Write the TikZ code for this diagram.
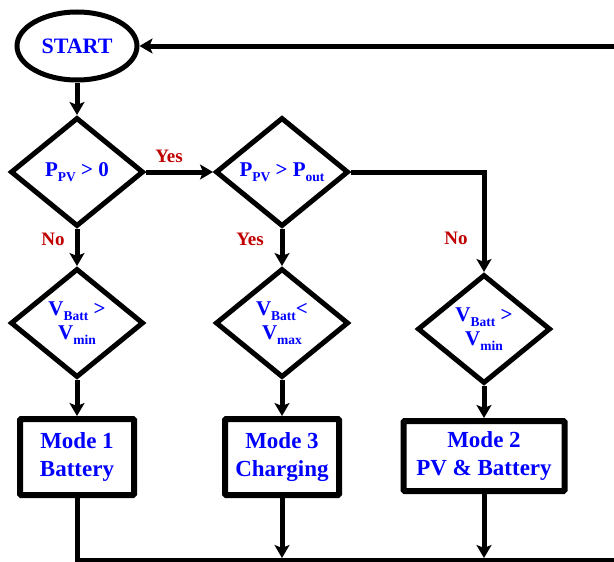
\documentclass[tikz,border=0pt]{standalone}
\usepackage{fontspec}
\setmainfont{Liberation Serif}
\usetikzlibrary{shapes.geometric,arrows.meta}
\definecolor{txtblue}{RGB}{0,0,255}
\definecolor{lblred}{RGB}{192,0,0}
% lowered small text for variable indices
\newcommand{\idx}[1]{\raisebox{-0.22em}{\fontsize{13.5}{13.5}\selectfont #1}}

\begin{document}
\begin{tikzpicture}[x=1pt,y=-1pt,
  decision/.style={diamond, draw, line width=5pt, line join=miter,
    minimum width=133pt, minimum height=109pt, inner sep=0pt, text=txtblue,
    font=\fontsize{21}{25}\selectfont\bfseries, align=center},
  modebox/.style={rectangle, draw, line width=6pt, rounded corners=1pt,
    text=txtblue, font=\fontsize{23}{28}\selectfont\bfseries, align=center,
    inner sep=0pt},
  terminal/.style={ellipse, draw, line width=5pt, minimum width=120pt,
    minimum height=68pt, inner sep=0pt, text=txtblue,
    font=\fontsize{22}{22}\selectfont\bfseries},
  flow/.style={line width=5pt, -{Stealth[length=13pt,width=15pt,inset=3pt]}},
  answer/.style={text=lblred, font=\fontsize{19}{19}\selectfont\bfseries}
]
\clip (0,0) rectangle (614,562);

% start terminal
\node[terminal] (start) at (77,46) {START};

% decisions
\node[decision] (d1) at (77,172) {P\idx{PV} > 0};
\node[decision] (d2) at (282,172) {P\idx{PV} > P\idx{out}};
\node[decision] (d4) at (77,323) {V\idx{Batt} >\\[-1pt]V\idx{min}};
\node[decision] (d5) at (282,323) {V\idx{Batt}<\\[-1pt]V\idx{max}};
\node[decision] (d6) at (484,329) {V\idx{Batt} >\\[-1pt]V\idx{min}};

% operating modes
\node[modebox, minimum width=114pt, minimum height=76pt] (m1) at (77,457) {Mode 1\\Battery};
\node[modebox, minimum width=114pt, minimum height=76pt] (m3) at (282,457) {Mode 3\\Charging};
\node[modebox, minimum width=161pt, minimum height=70pt] (m2) at (484,456) {Mode 2\\PV \& Battery};

% branch labels
\node[answer] (yes1) at (169,156) {Yes};
\node[answer] (no1) at (53,239) {No};
\node[answer] (yes2) at (250,239) {Yes};
\node[answer] (no2) at (456,238) {No};

% return line coordinates
\coordinate (bl) at (0,560);
\coordinate (ret) at (640,46);

% connectors
\draw[flow] (start) -- (d1);
\draw[flow] (d1.east) -- (d2.west);
\draw[flow] (d1.south) -- (d4.north);
\draw[flow] (d2.south) -- (d5.north);
\draw[flow] (d2.east) -| (d6.north);
\draw[flow] (d4.south) -- (m1.north);
\draw[flow] (d5.south) -- (m3.north);
\draw[flow] (d6.south) -- (m2.north);
\draw[flow, shorten >=2pt] (m3.south) -- (m3.south |- bl);
\draw[flow, shorten >=2pt] (m2.south) -- (m2.south |- bl);
\draw[flow] (m1.south) -- (m1.south |- bl) -| (ret) -- (start.east);
\end{tikzpicture}
\end{document}
